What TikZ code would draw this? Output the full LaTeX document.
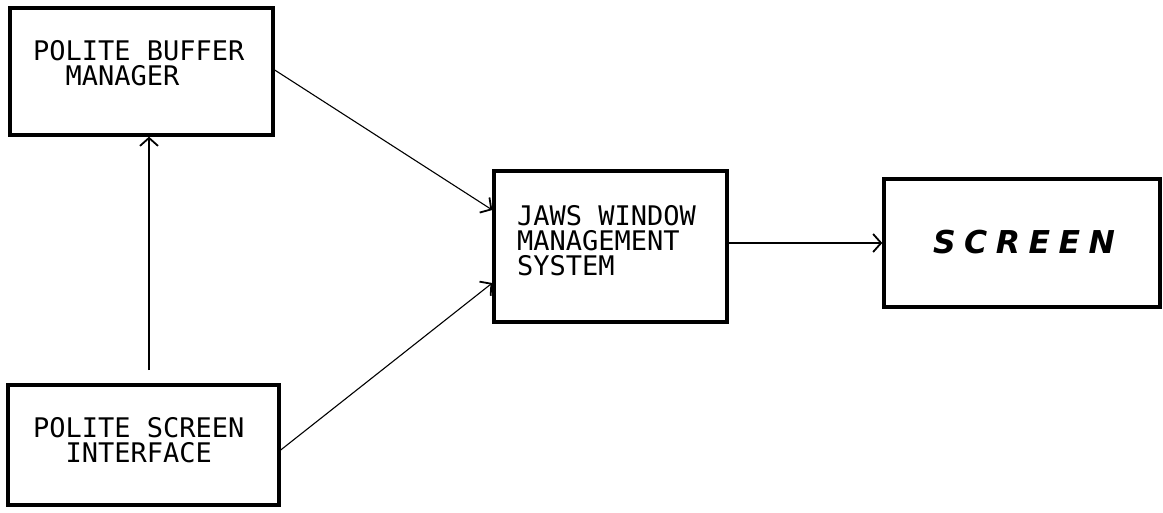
\documentclass[tikz,border=0pt]{standalone}
\usepackage{fontspec}
\newfontfamily\plotfont{DejaVu Sans Mono}
\newfontfamily\scrfont[LetterSpace=27]{DejaVu Sans Bold Oblique}
\usetikzlibrary{arrows.meta,calc}
\begin{document}
\begin{tikzpicture}[x=1pt,y=-1pt,
  box/.style={draw,line width=3.4pt,rectangle,inner sep=0pt},
  lbl/.style={anchor=north west,inner sep=0pt,align=left,
    font=\plotfont\fontsize{27}{25}\selectfont},
  conn/.style={line width=1.1pt,-{Straight Barb[length=8pt,width=18pt,line width=1.8pt]}}]
\useasboundingbox (0,0) rectangle (1163,513);
\node[box,minimum width=263pt,minimum height=127pt] (b1) at (141.5,71.5) {};
\node[box,minimum width=271pt,minimum height=120pt] (b2) at (143.5,445) {};
\node[box,minimum width=233pt,minimum height=151pt] (b3) at (610.5,246.5) {};
\node[box,minimum width=276pt,minimum height=128pt] (b4) at (1022,243) {};
\node[lbl] (t1) at (33,40) {POLITE BUFFER\\\phantom{PO}MANAGER};
\node[lbl] (t2) at (33,417) {POLITE SCREEN\\\phantom{PO}INTERFACE};
\node[lbl] (t3) at (517,205) {JAWS WINDOW\\MANAGEMENT\\SYSTEM};
\node[inner sep=0pt,font=\scrfont\fontsize{31.5}{32}\selectfont] (t4) at (1024,242) {SCREEN};
\coordinate (v0) at (149,370);
\draw[conn] (v0) -- (v0 |- b1.south);
\draw[conn] ($(b1.east)+(0,-1.5)$) -- ($(b3.west)+(0,-36.5)$);
\draw[conn] ($(b2.east)+(0,5)$) -- ($(b3.west)+(0,36.5)$);
\draw[conn] (b3.east |- b4.west) -- (b4.west);
\end{tikzpicture}
\end{document}
